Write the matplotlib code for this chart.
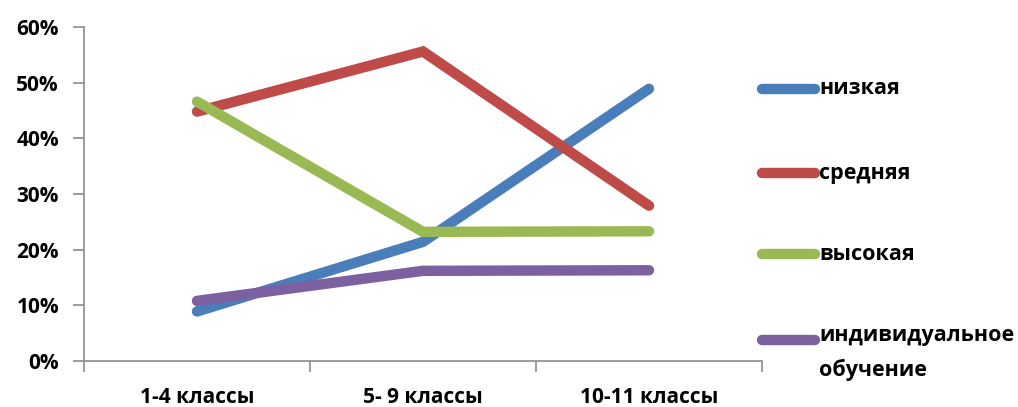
import matplotlib
matplotlib.use("Agg")
import matplotlib.pyplot as plt
from matplotlib.lines import Line2D
from matplotlib.ticker import PercentFormatter

categories = ["1-4 классы", "5- 9 классы", "10-11 классы"]
series_names = ["низкая", "средняя", "высокая", "индивидуальное\nобучение"]
low = [8.9, 21.4, 48.9]
medium = [44.8, 55.6, 27.9]
high = [46.6, 23.2, 23.3]
individual = [10.8, 16.2, 16.3]
y_ticks = [0, 10, 20, 30, 40, 50, 60]

colors = ["#4A7EBB", "#BE4B48", "#98B954", "#7D60A0"]
series = [low, medium, high, individual]

plt.rcParams["font.family"] = ["Open Sans", "DejaVu Sans"]
plt.rcParams["font.weight"] = "bold"
FS = 15

fig = plt.figure(figsize=(10.18, 4.07), dpi=100)
ax = fig.add_axes([84 / 1018, 46 / 407, 678 / 1018, 334 / 407])

x = list(range(len(categories)))
for vals, c in zip(series, colors):
    ax.plot(x, vals, color=c, lw=7.5, solid_capstyle="round", solid_joinstyle="miter")

ax.set_xlim(-0.5, len(categories) - 0.5)
ax.set_ylim(0, 60)
ax.set_yticks(y_ticks)
ax.yaxis.set_major_formatter(PercentFormatter(decimals=0))
ax.set_xticks([i - 0.5 for i in range(len(categories) + 1)], minor=False)
ax.set_xticklabels([""] * (len(categories) + 1))
ax.set_xticks(x, minor=True)
ax.set_xticklabels(categories, minor=True)
ax.tick_params(axis="x", which="minor", length=0, pad=19, labelsize=FS)
ax.tick_params(axis="x", which="major", length=8, width=1.2, color="#8C8C8C", direction="out")
ax.tick_params(axis="y", length=8, width=1.2, color="#8C8C8C", pad=10, labelsize=FS)
for lbl in ax.get_xticklabels(minor=True) + ax.get_yticklabels():
    lbl.set_fontweight("bold")

for side in ["top", "right"]:
    ax.spines[side].set_visible(False)
for side in ["left", "bottom"]:
    ax.spines[side].set_color("#8C8C8C")
    ax.spines[side].set_linewidth(1.2)

# legend drawn at the right side of the figure
legend_y = [89, 173, 254, 340]
for name, c, yy in zip(series_names, colors, legend_y):
    yf = 1 - yy / 407
    fig.add_artist(Line2D([762 / 1018, 815 / 1018], [yf, yf], color=c, lw=7.5,
                          solid_capstyle="round", transform=fig.transFigure))
    t = fig.text(819 / 1018, yf, name, ha="left", va="center",
                 fontsize=FS + 0.5, fontweight="bold", linespacing=1.75,
                 transform=fig.transFigure)
    if "\n" in name:
        t.set_va("top")
        t.set_y(yf + 15 / 407)

fig.savefig("out.png", dpi=100)
